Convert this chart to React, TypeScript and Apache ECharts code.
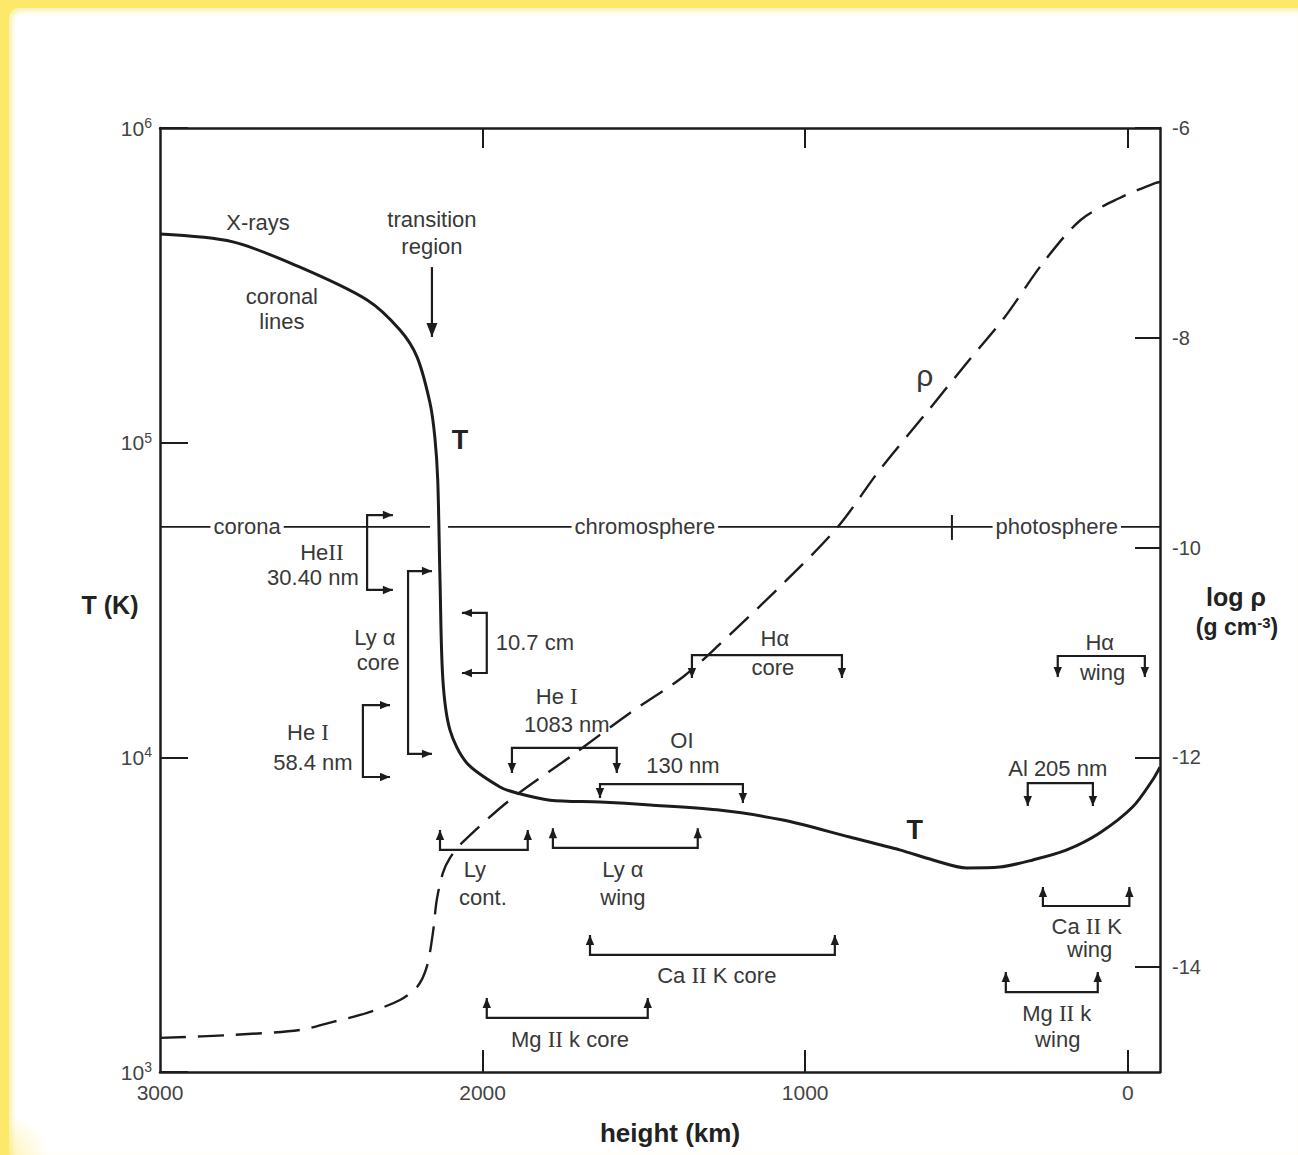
import React, { useEffect, useRef } from "react";
import * as echarts from "echarts";

// ---------- axes ----------
const heightTickValues = [0, 1000, 2000];
const heightLabelValues = [0, 1000, 2000, 3000];
const rhoTickValues = [-14, -12, -10, -8, -6];

// ---------- temperature curve T (height km, K) ----------
const tempCurve: [number, number][] = [
  [3000, 460000], [2774, 434500], [2566, 361000], [2358, 284000], [2256, 228000],
  [2203, 187000], [2163, 133700], [2148, 104200], [2139, 76000], [2132, 36600],
  [2123, 17600], [2101, 12200], [2049, 9600], [1946, 8050], [1894, 7700],
  [1791, 7310], [1636, 7210], [1481, 7060], [1274, 6810], [1069, 6320],
  [862, 5580], [707, 5080], [604, 4720], [499, 4450], [397, 4480],
  [294, 4720], [189, 5080], [87, 5750], [-15, 6950], [-77, 8470], [-100, 9310],
];

// ---------- density curve log rho (height km, log g cm^-3) ----------
const densityCurve: [number, number][] = [
  [3000, -14.675], [2774, -14.646], [2566, -14.599], [2464, -14.522], [2358, -14.437],
  [2256, -14.313], [2203, -14.189], [2173, -13.998], [2154, -13.674], [2142, -13.359],
  [2123, -13.102], [2101, -12.959], [2064, -12.816], [1915, -12.406], [1729, -11.996],
  [1543, -11.577], [1379, -11.234], [1274, -10.948], [1057, -10.309], [899, -9.804],
  [769, -9.26], [617, -8.688], [499, -8.24], [381, -7.802], [263, -7.287],
  [146, -6.877], [25, -6.667], [-87, -6.524], [-100, -6.515],
];

// ---------- corona / chromosphere / photosphere line ----------
const regionLineT = 54000;
const regionLine: (number | string)[][] = [
  [3000, regionLineT], [2163, regionLineT], [2135, "-"], [2107, regionLineT], [-100, regionLineT],
];
const regionDivider: [number, number][] = [[545, 58900], [545, 49100]];

// ---------- brackets: horizontal span [h1, h2, log T bar, log T tip1, log T tip2] ----------
const bracketsH: number[][] = [
  [1351, 886, 4.325, 4.252, 4.252], // H alpha core
  [1909, 1584, 4.03, 3.95, 3.95], // He I 1083
  [1636, 1193, 3.915, 3.871, 3.855], // OI 130
  [310, 108, 3.918, 3.845, 3.845], // Al 205
  [217, -53, 4.322, 4.255, 4.255], // H alpha wing
  [2132, 1860, 3.706, 3.769, 3.769], // Ly cont
  [1782, 1333, 3.712, 3.775, 3.775], // Ly alpha wing
  [1667, 908, 3.372, 3.435, 3.435], // Ca II K core
  [1987, 1488, 3.172, 3.235, 3.235], // Mg II k core
  [263, -5, 3.5275, 3.588, 3.588], // Ca II K wing
  [378, 93, 3.254, 3.318, 3.318], // Mg II k wing
];
// vertical span [log T1, log T2, h bar, h tip]
const bracketsV: number[][] = [
  [4.77, 4.532, 2358, 2278], // He II 30.40
  [4.592, 4.011, 2231, 2157], // Ly alpha core
  [4.166, 3.9375, 2371, 2287], // He I 58.4
  [4.459, 4.268, 1987, 2064], // 10.7 cm
];
// single arrows [h, log T from, log T to]
const arrowsV: number[][] = [[2157, 5.558, 5.336]];

// ---------- annotation texts [text, h, log T, kind] ----------
const labelRows: [string, number, number, string][] = [
  ["X-rays", 2696, 5.701, "n"],
  ["coronal", 2622, 5.463, "n"],
  ["lines", 2622, 5.3835, "n"],
  ["transition", 2157, 5.708, "n"],
  ["region", 2157, 5.622, "n"],
  ["T", 2070, 5.0085, "b"],
  ["ρ", 629, 5.215, "g"],
  ["T", 660, 3.769, "b"],
  ["corona", 2730, 4.732, "l"],
  ["chromosphere", 1497, 4.732, "l"],
  ["photosphere", 220, 4.732, "l"],
  ["He{r|II}", 2498, 4.6494, "n"],
  ["30.40 nm", 2526, 4.573, "n"],
  ["Ly α", 2334, 4.3824, "n"],
  ["core", 2324, 4.3, "n"],
  ["He {r|I}", 2541, 4.0805, "n"],
  ["58.4 nm", 2526, 3.985, "n"],
  ["10.7 cm", 1838, 4.3634, "n"],
  ["Hα", 1094, 4.379, "n"],
  ["core", 1100, 4.284, "n"],
  ["He {r|I}", 1770, 4.192, "n"],
  ["1083 nm", 1739, 4.103, "n"],
  ["OI", 1382, 4.052, "n"],
  ["130 nm", 1379, 3.974, "n"],
  ["Ly", 2024, 3.642, "n"],
  ["cont.", 1999, 3.553, "n"],
  ["Ly α", 1565, 3.642, "n"],
  ["wing", 1565, 3.556, "n"],
  ["Ca {r|II} K core", 1274, 3.308, "n"],
  ["Mg {r|II} k core", 1729, 3.102, "n"],
  ["Al 205 nm", 217, 3.966, "n"],
  ["Hα", 87, 4.3634, "n"],
  ["wing", 78, 4.271, "n"],
  ["Ca {r|II} K", 127, 3.461, "n"],
  ["wing", 118, 3.388, "n"],
  ["Mg {r|II} k", 220, 3.1875, "n"],
  ["wing", 217, 3.102, "n"],
];

const INK = "#1c1c1c";
const TEXT = "#383838";
const FONT = '"Liberation Sans", Arial, Helvetica, sans-serif';
const SERIF = '"Liberation Serif", "Times New Roman", serif';

function head(tip: number[], from: number[], len = 10, half = 4.2) {
  const dx = tip[0] - from[0];
  const dy = tip[1] - from[1];
  const L = Math.hypot(dx, dy) || 1;
  const ux = dx / L;
  const uy = dy / L;
  const bx = tip[0] - ux * len;
  const by = tip[1] - uy * len;
  return {
    type: "polygon",
    shape: { points: [[tip[0], tip[1]], [bx - uy * half, by + ux * half], [bx + uy * half, by - ux * half]] },
    style: { fill: INK },
  };
}

const lineStyle = { stroke: INK, lineWidth: 2.2, fill: null as any };

export default function App() {
  const ref = useRef<HTMLDivElement>(null);
  useEffect(() => {
    if (!ref.current) return;
    const chart = echarts.init(ref.current, null, { renderer: "svg" });
    const pow = (v: number) => Math.pow(10, v);

    const option: any = {
      animation: false,
      grid: { left: 160, right: 138, top: 128, bottom: 83 },
      xAxis: [
        {
          type: "value", min: -100, max: 3000, inverse: true, position: "bottom",
          axisLine: { onZero: false, lineStyle: { color: INK, width: 2.5 } },
          axisTick: { inside: true, length: 22, customValues: heightTickValues, lineStyle: { color: INK, width: 2 } },
          axisLabel: {
            customValues: heightLabelValues, color: "#444", fontSize: 21, fontFamily: FONT, margin: 10,
            formatter: (v: number) => String(v),
          },
          splitLine: { show: false },
        },
        {
          type: "value", min: -100, max: 3000, inverse: true, position: "top",
          axisLine: { onZero: false, lineStyle: { color: INK, width: 2.5 } },
          axisTick: { inside: true, length: 20, customValues: heightTickValues, lineStyle: { color: INK, width: 2 } },
          axisLabel: { show: false },
          splitLine: { show: false },
        },
      ],
      yAxis: [
        {
          type: "log", logBase: 10, min: 1000, max: 1000000, position: "left",
          axisLine: { onZero: false, lineStyle: { color: INK, width: 2.5 } },
          axisTick: { inside: true, length: 28, lineStyle: { color: INK, width: 2 } },
          minorTick: { show: false },
          axisLabel: {
            margin: 8,
            fontSize: 20,
            color: "#444",
            fontFamily: FONT,
            formatter: (v: number) => `{base|10}{sup|${Math.round(Math.log10(v))}}`,
            rich: {
              base: { fontSize: 21, color: "#444", fontFamily: FONT },
              sup: { fontSize: 14, color: "#444", fontFamily: FONT, verticalAlign: "top", padding: [0, 0, 10, 0] },
            },
          },
          splitLine: { show: false },
        },
        {
          type: "value", min: -15, max: -6, position: "right",
          axisLine: { onZero: false, lineStyle: { color: INK, width: 2.5 } },
          axisTick: { inside: true, length: 25, customValues: rhoTickValues, lineStyle: { color: INK, width: 2 } },
          axisLabel: { customValues: rhoTickValues, color: "#444", fontSize: 20, fontFamily: FONT, margin: 12 },
          splitLine: { show: false },
        },
      ],
      series: [
        {
          name: "regions", type: "line", xAxisIndex: 0, yAxisIndex: 0, data: regionLine,
          symbol: "none", connectNulls: false, lineStyle: { color: INK, width: 1.8 }, z: 1,
        },
        {
          name: "divider", type: "line", xAxisIndex: 0, yAxisIndex: 0, data: regionDivider,
          symbol: "none", lineStyle: { color: INK, width: 2 }, z: 1,
        },
        {
          name: "T", type: "line", xAxisIndex: 0, yAxisIndex: 0, data: tempCurve,
          symbol: "none", smooth: 0.3, lineStyle: { color: INK, width: 3 }, z: 3,
        },
        {
          name: "rho", type: "line", xAxisIndex: 0, yAxisIndex: 1, data: densityCurve,
          symbol: "none", smooth: 0.3, lineStyle: { color: INK, width: 2.4, type: [26, 12] }, z: 3,
        },
        {
          name: "bracketsH", type: "custom", xAxisIndex: 0, yAxisIndex: 0, z: 4,
          data: bracketsH.map((r) => [r[0], r[1], pow(r[2]), pow(r[3]), pow(r[4])]),
          encode: { x: [0, 1], y: [2, 3, 4] },
          renderItem: (params: any, api: any) => {
            const A = api.coord([api.value(0), api.value(2)]);
            const B = api.coord([api.value(1), api.value(2)]);
            const P1 = api.coord([api.value(0), api.value(3)]);
            const P2 = api.coord([api.value(1), api.value(4)]);
            return {
              type: "group",
              children: [
                { type: "polyline", shape: { points: [P1, A, B, P2] }, style: lineStyle },
                head(P1, A),
                head(P2, B),
              ],
            };
          },
        },
        {
          name: "bracketsV", type: "custom", xAxisIndex: 0, yAxisIndex: 0, z: 4,
          data: bracketsV.map((r) => [pow(r[0]), pow(r[1]), r[2], r[3]]),
          encode: { x: [2, 3], y: [0, 1] },
          renderItem: (params: any, api: any) => {
            const A = api.coord([api.value(2), api.value(0)]);
            const B = api.coord([api.value(2), api.value(1)]);
            const P1 = api.coord([api.value(3), api.value(0)]);
            const P2 = api.coord([api.value(3), api.value(1)]);
            return {
              type: "group",
              children: [
                { type: "polyline", shape: { points: [P1, A, B, P2] }, style: lineStyle },
                head(P1, A),
                head(P2, B),
              ],
            };
          },
        },
        {
          name: "arrows", type: "custom", xAxisIndex: 0, yAxisIndex: 0, z: 4,
          data: arrowsV.map((r) => [r[0], pow(r[1]), pow(r[2])]),
          encode: { x: [0], y: [1, 2] },
          renderItem: (params: any, api: any) => {
            const A = api.coord([api.value(0), api.value(1)]);
            const B = api.coord([api.value(0), api.value(2)]);
            return {
              type: "group",
              children: [
                { type: "line", shape: { x1: A[0], y1: A[1], x2: B[0], y2: B[1] }, style: { stroke: INK, lineWidth: 2.2 } },
                head(B, A, 14, 5.5),
              ],
            };
          },
        },
        {
          name: "labels", type: "custom", xAxisIndex: 0, yAxisIndex: 0, z: 6,
          data: labelRows.map((r) => [r[1], pow(r[2])]),
          encode: { x: [0], y: [1] },
          renderItem: (params: any, api: any) => {
            const row = labelRows[params.dataIndex];
            const p = api.coord([api.value(0), api.value(1)]);
            const kind = row[3];
            const style: any = {
              text: row[0],
              fontFamily: FONT,
              fontSize: 22,
              fontWeight: "normal",
              fill: TEXT,
              align: "center",
              verticalAlign: "middle",
              textAlign: "center",
              textVerticalAlign: "middle",
              lineHeight: 21,
              rich: { r: { fontFamily: SERIF, fontSize: 23, fill: TEXT, color: TEXT, lineHeight: 21 } },
            };
            if (kind === "b") {
              style.fontSize = 27;
              style.fontWeight = "bold";
              style.fill = "#222";
            } else if (kind === "g") {
              style.fontSize = 30;
            } else if (kind === "l") {
              style.backgroundColor = "#ffffff";
              style.padding = [0, 3, 0, 3];
            }
            return { type: "text", x: p[0], y: p[1], style };
          },
        },
      ],
      graphic: [
        {
          type: "text", x: 110, y: 605, z: 10,
          style: { text: "T (K)", fontFamily: FONT, fontSize: 25, fontWeight: "bold", fill: "#222", align: "center", verticalAlign: "middle", textAlign: "center", textVerticalAlign: "middle" },
        },
        {
          type: "text", x: 1236, y: 597, z: 10,
          style: { text: "log ρ", fontFamily: FONT, fontSize: 25, fontWeight: "bold", fill: "#222", align: "center", verticalAlign: "middle", textAlign: "center", textVerticalAlign: "middle" },
        },
        {
          type: "text", x: 1237, y: 627, z: 10,
          style: {
            text: "(g cm{s|-3})", fontFamily: FONT, fontSize: 23, fontWeight: "bold", fill: "#222",
            align: "center", verticalAlign: "middle", textAlign: "center", textVerticalAlign: "middle",
            rich: { s: { fontFamily: FONT, fontSize: 15, fontWeight: "bold", fill: "#222", verticalAlign: "top", padding: [0, 0, 10, 0] } },
          },
        },
        {
          type: "text", x: 670, y: 1133, z: 10,
          style: { text: "height (km)", fontFamily: FONT, fontSize: 26, fontWeight: "bold", fill: "#222", align: "center", verticalAlign: "middle", textAlign: "center", textVerticalAlign: "middle" },
        },
      ],
    };
    chart.setOption(option);
    return () => chart.dispose();
  }, []);

  return (
    <div style={{ position: "fixed", left: 0, top: 0, width: 1298, height: 1155, background: "#fde86a", overflow: "hidden" }}>
      <div
        style={{
          position: "absolute", left: 9, top: 8, right: 0, bottom: 0,
          background: "radial-gradient(circle at 0% 100%, rgba(253,232,106,0.45), rgba(255,255,255,0) 40px), #ffffff",
          borderTopLeftRadius: 10,
          boxShadow: "inset 3px 3px 5px rgba(250,225,90,0.5)",
        }}
      />
      <div ref={ref} style={{ position: "absolute", left: 0, top: 0, width: 1298, height: 1155 }} />
    </div>
  );
}
